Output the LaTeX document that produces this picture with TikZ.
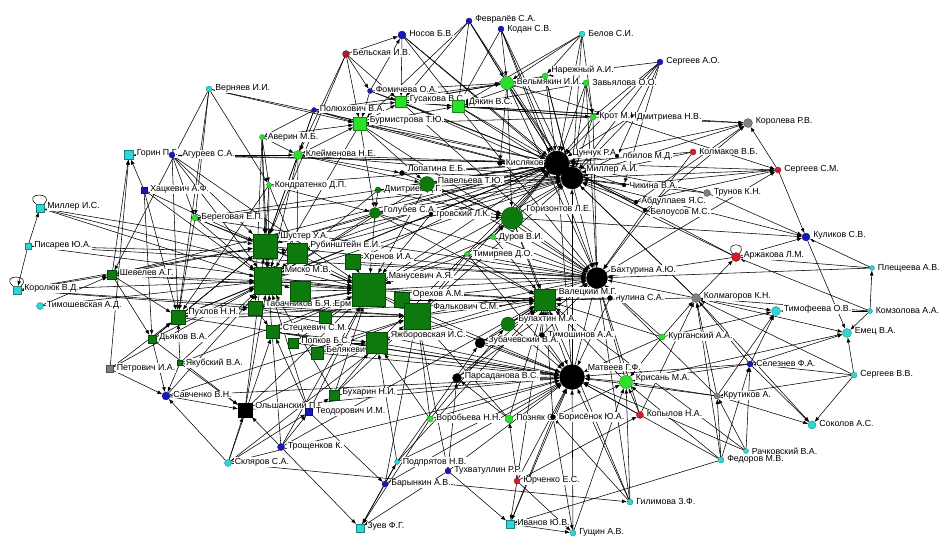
\documentclass[tikz,border=0pt]{standalone}
\usepackage{fontspec}
\setmainfont{Liberation Sans}
\usetikzlibrary{arrows.meta}
\pgfdeclarelayer{edges}\pgfdeclarelayer{labels}
\pgfsetlayers{edges,labels,main}
\definecolor{cyanN}{RGB}{45,215,215}
\definecolor{blueN}{RGB}{25,25,185}
\definecolor{greenL}{RGB}{40,225,40}
\definecolor{greenD}{RGB}{12,122,12}
\definecolor{redN}{RGB}{215,25,40}
\definecolor{redD}{RGB}{170,30,50}
\definecolor{grayN}{RGB}{128,128,128}
\tikzset{
  cn/.style={circle, fill=#1, draw=#1!60!black, line width=0.3pt, inner sep=0pt, outer sep=0pt},
  sq/.style={rectangle, fill=#1, draw=#1!60!black, line width=0.3pt, inner sep=0pt, outer sep=0pt},
  lab/.style={anchor=west, font=\fontsize{8.8}{9}\selectfont, inner sep=0.6pt, fill=white},
  lnk/.style={draw=black, line width=0.55pt, -{Latex[length=5pt,width=3.8pt]}},
  loopl/.style={draw=black, line width=0.55pt}
}
\newcommand\NN[7][]{%
  \begin{pgfonlayer}{labels}\node[lab,#1] (#2l) at ({#3+#6/2+2.5},{#4-#6/2+2.5}) {#7};\end{pgfonlayer}%
  \node[#5, minimum size=#6pt] (#2) at (#3,#4) {};}
\begin{document}
\begin{tikzpicture}[x=1pt,y=-1pt]
\begin{pgfonlayer}{edges}
\fill[white] (0,0) rectangle (945,552);
\end{pgfonlayer}
\path[use as bounding box] (0,0) rectangle (945,552);
% periphery left
\NN{verny}{209}{89}{cn=cyanN}{6}{Верняев И.И.}
\NN{gorin}{129}{155}{sq=cyanN}{9}{Горин П.Г.}
\NN[xshift=4pt]{agur}{172}{155}{cn=blueN}{6}{Агуреев С.А.}
\NN{hats}{144}{190}{sq=blueN}{6}{Хацкевич А.Ф.}
\NN{millerIS}{40}{208}{sq=cyanN}{8}{Миллер И.С.}
\NN{pisar}{28}{246}{sq=cyanN}{6}{Писарев Ю.А.}
\NN{korol}{17}{290}{sq=cyanN}{8}{Королюк В.Д.}
\NN{timosh}{40}{306}{cn=cyanN}{7}{Тимошевская А.Д.}
\NN{shev}{112}{275}{sq=greenD}{9}{Шевелев А.Г.}
\NN{bereg}{195}{218}{cn=greenL}{6}{Береговая Е.П.}
\NN{puhl}{178}{317}{sq=greenD}{14}{Пухлов Н.Н.}
\NN{dyak}{152}{339}{sq=greenD}{8}{Дьяков В.А.}
\NN{petr}{110}{369}{sq=grayN}{7}{Петрович И.А.}
\NN{yakub}{180}{363}{sq=greenD}{5}{Якубский В.А.}
\NN{savch}{166}{396}{cn=blueN}{8}{Савченко В.Н.}
\NN{olsh}{245}{410}{sq=black}{14}{Ольшанский П.Г.}
\NN{sklyar}{228}{463}{cn=cyanN}{7}{Скляров С.А.}
\NN{trosh}{281}{447}{cn=blueN}{7}{Трощенков К.}
\NN{teod}{309}{412}{sq=blueN}{7}{Теодорович И.М.}
\NN{buhar}{334}{395}{sq=greenD}{10}{Бухарин Н.И.}
\NN{zuev}{360}{528}{sq=cyanN}{8}{Зуев Ф.Г.}
\NN{baryn}{385}{484}{cn=blueN}{6}{Барынкин А.В.}
\NN{podpr}{397}{462}{cn=cyanN}{5}{Подпрятов Н.В.}
\NN{tuhv}{448}{471}{cn=blueN}{6}{Тухватуллин Р.Р.}
\NN{vorob}{430}{419}{cn=greenL}{6}{Воробьева Н.Н.}
\NN{pozn}{509}{419}{cn=greenL}{8}{Позняк О.}
\NN{boris}{553}{417}{cn=black}{5}{Борисёнок Ю.А.}
\NN{kopyl}{640}{415}{cn=redN}{7}{Копылов Н.А.}
\NN{yurch}{517}{481}{cn=redN}{6}{Юрченко Е.С.}
\NN{gilim}{630}{502}{cn=cyanN}{6}{Гилимова З.Ф.}
\NN{ivan}{510}{524}{sq=cyanN}{8}{Иванов Ю.В.}
\NN{gusch}{573}{533}{cn=cyanN}{6}{Гущин А.В.}
% right
\NN{fedor}{721}{460}{cn=cyanN}{6}{Федоров М.В.}
\NN{rachk}{746}{451}{cn=cyanN}{5}{Рачковский В.А.}
\NN{sokol}{812}{425}{cn=cyanN}{8}{Соколов А.С.}
\NN{sergVV}{854}{375}{cn=cyanN}{6}{Сергеев В.В.}
\NN{krut}{717}{396}{cn=grayN}{6}{Крутиков А.}
\NN{selez}{750}{364}{cn=blueN}{6}{Селезнев Ф.А.}
\NN{emets}{847}{333}{cn=cyanN}{9}{Емец В.А.}
\NN{komz}{870}{311}{cn=cyanN}{5}{Комзолова А.А.}
\NN{timof}{776}{311}{cn=cyanN}{9}{Тимофеева О.В.}
\NN{plesh}{872}{268}{cn=cyanN}{5}{Плещеева А.В.}
\NN{kulik}{806}{237}{cn=blueN}{8}{Куликов С.В.}
\NN{arzh}{736}{257}{cn=redN}{9}{Аржакова Л.М.}
\NN{kolmag}{696}{298}{cn=grayN}{9}{Колмагоров К.Н.}
\NN{kurg}{662}{337}{cn=greenL}{6}{Курганский А.А.}
\NN{krisan}{626}{382}{cn=greenL}{13}{Крисань М.А.}
\NN{trunov}{707}{193}{cn=grayN}{7}{Трунов К.Н.}
\NN{sergSM}{778}{170}{cn=redN}{6}{Сергеев С.М.}
\NN{korolRV}{748}{123}{cn=grayN}{9}{Королева Р.В.}
\NN{kolmak}{693}{152}{cn=redN}{6}{Колмаков В.Б.}
% top
\NN{sergAO}{660}{62}{cn=blueN}{6}{Сергеев А.О.}
\NN{belov}{582}{34}{cn=cyanN}{6}{Белов С.И.}
\NN[yshift=-1pt]{kodan}{501}{29}{cn=blueN}{6}{Кодан С.В.}
\NN[yshift=1pt]{fevr}{469}{21}{cn=blueN}{6}{Февралёв С.А.}
\NN{nosov}{402}{35}{cn=blueN}{8}{Носов Б.В.}
\NN{belsk}{346}{54}{cn=redD}{7}{Бельская И.В.}
\NN[yshift=2pt]{fomich}{370}{91}{cn=blueN}{5}{Фомичева О.А.}
\NN{gusak}{401}{102}{sq=greenL}{11}{Гусакова В.С.}
\NN[xshift=1.5pt]{dyakin}{458}{106}{sq=greenL}{12}{Дякин В.С.}
\NN[yshift=-3pt]{velm}{507}{83}{cn=greenL}{13}{Вельмякин И.И.}
\NN[yshift=5pt]{narezh}{545}{76}{cn=greenL}{6}{Нарежный А.И.}
\NN{zavyal}{586}{83}{cn=greenL}{6}{Завьялова О.О.}
\NN{krot}{593}{117}{cn=greenL}{6}{Крот М.Н.}
\NN{dmitrieva}{632}{116}{cn=black}{3}{Дмитриева Н.В.}
\NN[yshift=1pt]{polyuh}{314}{110}{cn=blueN}{5}{Полюхович В.А.}
\NN{burm}{360}{124}{sq=greenL}{13}{Бурмистрова Т.Ю.}
\NN{averin}{262}{137}{cn=greenL}{5}{Аверин М.Б.}
\NN{kleim}{298}{155}{cn=greenL}{9}{Клейменова Н.Е.}
\NN[yshift=4pt]{lopat}{402}{173}{cn=black}{5}{Лопатина Е.Б.}
\NN[yshift=-1pt]{pavel}{427}{184}{cn=greenD}{15}{Павельева Т.Ю.}
\NN{kondr}{269}{185}{cn=greenL}{5}{Кондратенко Д.П.}
\NN{dmitriev}{378}{190}{cn=greenD}{6}{Дмитриев Д.Г.}
\NN{ugrov}{431}{214}{cn=black}{4}{гровский Л.К.}
\NN{golub}{375}{213}{cn=greenD}{11}{Голубев С.А.}
\NN{gorizont}{512}{218}{cn=greenD}{22}{Горизонтов Л.Е.}
\NN{durov}{493}{237}{cn=greenL}{5}{Дуров В.И.}
\NN{timir}{467}{254}{cn=greenL}{5}{Тимиряев Д.О.}
\NN{husnul}{610}{298}{cn=black}{5}{нулина С.А.}
\NN{bahtur}{597}{278}{cn=black}{21}{Бахтурина А.Ю.}
\NN{valets}{545}{300}{sq=greenD}{21}{Валецкий М.Г.}
\NN{bulah}{508}{324}{cn=greenD}{14}{Булахтин М.А.}
\NN{timoshin}{542}{335}{cn=black}{5}{Тимошинов А.А.}
\NN{zubach}{480}{343}{cn=black}{10}{Зубачевский В.А.}
\NN{parsad}{457}{378}{cn=black}{9}{Парсаданова В.С.}
\NN{matveev}{572}{377}{cn=black}{25}{Матвеев Г.Ф.}
\NN{kislyak}{500}{163}{cn=black}{5}{Кисляков}
\NN{albilov}{617}{156}{cn=black}{4}{лбилов М.Д.}
\NN{tsunch}{557}{163}{cn=black}{24}{Цунчук Р.А.}
\NN{millerAI}{572}{178}{cn=black}{22}{Миллер А.И.}
\NN{chikina}{624}{185}{cn=black}{4}{Чикина В.А.}
\NN[yshift=1pt]{abdul}{636}{202}{cn=black}{4}{Абдуллаев Я.С.}
\NN[yshift=-2pt]{belous}{645}{210}{cn=black}{4}{Белоусов М.С.}
% centre squares
\NN{shuster}{265}{246}{sq=greenD}{24}{Шустер У.А.}
\NN{rubin}{297}{253}{sq=greenD}{20}{Рубинштейн Е.И.}
\NN{hren}{353}{262}{sq=greenD}{15}{Хренов И.А.}
\NN[yshift=9pt]{erm}{325}{317}{sq=greenD}{12}{Ерм}
\NN{manus}{369}{290}{sq=greenD}{33}{Манусевич А.Я.}
\node[sq=greenD, minimum size=20pt] (sqD) at (300,291) {};
\NN{misko}{268}{281}{sq=greenD}{27}{Миско М.В.}
\NN[yshift=1pt]{orehov}{402}{300}{sq=greenD}{15}{Орехов А.М.}
\NN[yshift=-1pt]{falk}{417}{316}{sq=greenD}{26}{Фалькович С.М.}
\NN{tabach}{255}{308}{sq=greenD}{14}{Табачников Б.Я.}
\NN{stets}{273}{332}{sq=greenD}{13}{Стецкевич С.М.}
\NN{popkov}{293}{343}{sq=greenD}{10}{Попков Б.С.}
\NN{belyak}{317}{353}{sq=greenD}{12}{Белякевич}
\NN{yazh}{377}{343}{sq=greenD}{21}{Яжборовская И.С.}
\begin{pgfonlayer}{edges}
\foreach \a/\b in {belsk/nosov, fomich/nosov, nosov/gusak, nosov/dyakin, nosov/millerAI, nosov/tsunch,
fevr/velm, fevr/tsunch, fevr/dyakin, fevr/burm, fevr/millerAI, fevr/gusak,
kodan/velm, kodan/tsunch, kodan/millerAI, kodan/dyakin, kodan/bahtur,
belov/velm, belov/tsunch, belov/millerAI, belov/krot, belov/narezh, belov/dyakin,
sergAO/tsunch, sergAO/millerAI, sergAO/krot, sergAO/narezh, sergAO/albilov, sergAO/chikina,
belsk/burm, belsk/gusak, belsk/kleim, belsk/shuster, belsk/fomich,
fomich/gusak, fomich/burm, fomich/velm, fomich/tsunch,
gusak/dyakin, gusak/tsunch, gusak/millerAI, gusak/velm, gusak/bahtur,
dyakin/tsunch, dyakin/millerAI, dyakin/krot, dyakin/bahtur, dyakin/korolRV,
velm/tsunch, velm/millerAI, velm/bahtur, velm/gorizont, velm/kislyak, velm/sergSM,
narezh/tsunch, narezh/millerAI, narezh/bahtur, narezh/gusak, narezh/dyakin,
zavyal/tsunch, zavyal/millerAI, zavyal/krot, zavyal/velm, zavyal/dyakin, zavyal/bahtur,
krot/tsunch, krot/millerAI, krot/bahtur, krot/gusak, krot/burm, krot/korolRV,
dmitrieva/millerAI, dmitrieva/tsunch, dmitrieva/dyakin,
polyuh/burm, polyuh/gusak, polyuh/velm, polyuh/averin, polyuh/millerAI, polyuh/kleim, polyuh/shuster,
verny/bereg, verny/puhl, verny/burm, verny/tsunch, verny/kondr, verny/shev,
burm/tsunch, burm/millerAI, burm/dyakin, burm/gusak, burm/pavel, burm/golub, burm/bahtur, burm/misko,
averin/kleim, averin/shuster, averin/kondr, averin/misko, averin/burm, averin/tabach,
kleim/burm, kleim/shuster, kleim/rubin, kleim/tsunch, kleim/millerAI, kleim/lopat, kleim/pavel, kleim/misko,
lopat/tsunch, lopat/millerAI, lopat/gorizont,
pavel/tsunch, pavel/millerAI, pavel/gorizont, pavel/bahtur, pavel/misko, pavel/manus,
kondr/shuster, kondr/misko, kondr/rubin, kondr/golub, kondr/tsunch, kondr/puhl,
dmitriev/tsunch, dmitriev/golub, dmitriev/gorizont, dmitriev/misko, dmitriev/millerAI,
golub/gorizont, golub/tsunch, golub/millerAI, golub/bahtur, golub/manus, golub/misko, golub/shuster, golub/valets,
ugrov/gorizont, ugrov/tsunch, ugrov/manus,
gorizont/tsunch, gorizont/millerAI, gorizont/bahtur, gorizont/valets, gorizont/matveev, gorizont/kulik,
durov/gorizont, durov/bahtur, durov/tsunch, durov/valets, durov/manus,
timir/gorizont, timir/bahtur, timir/manus, timir/valets, timir/matveev, timir/falk,
hats/gorin, shev/gorin, petr/gorin, agur/gorin, gorin/kleim, gorin/tsunch,
agur/puhl, agur/bereg, agur/shuster, agur/misko, agur/tsunch, agur/manus,
hats/puhl, hats/shuster, hats/dyak, hats/misko,
pisar/millerIS, millerIS/shuster, millerIS/misko, millerIS/manus,
pisar/korol, pisar/manus, pisar/rubin, pisar/bahtur,
korol/shev, korol/misko, korol/shuster, korol/falk, korol/tabach,
timosh/misko, timosh/shev,
shev/puhl, shev/dyak, shev/misko, shev/shuster, shev/tsunch, shev/manus,
bereg/puhl, bereg/shuster, bereg/misko, bereg/tsunch, bereg/millerAI, bereg/manus, bereg/bahtur,
puhl/shuster, puhl/misko, puhl/manus, puhl/tsunch, puhl/matveev, puhl/tabach, puhl/falk, puhl/valets,
dyak/puhl, dyak/savch, dyak/olsh, dyak/shuster, dyak/misko,
petr/savch, petr/puhl, petr/misko,
yakub/savch, yakub/puhl, yakub/olsh, yakub/misko, yakub/manus,
sklyar/savch, savch/olsh, savch/matveev, savch/falk, savch/misko,
olsh/shuster, olsh/misko, olsh/manus, olsh/matveev, sklyar/olsh, olsh/yazh,
sklyar/falk, sklyar/teod, sklyar/stets, sklyar/gilim, sklyar/matveev,
trosh/olsh, trosh/zuev, trosh/teod, trosh/manus, trosh/misko, trosh/valets,
teod/buhar, teod/misko, teod/baryn, teod/manus, teod/stets,
buhar/manus, buhar/falk, buhar/matveev, buhar/misko, buhar/yazh,
podpr/zuev, baryn/zuev, tuhv/zuev, vorob/zuev,
baryn/matveev, baryn/podpr, baryn/falk,
podpr/matveev, podpr/valets, podpr/zubach, podpr/yazh,
tuhv/matveev, tuhv/parsad, tuhv/falk, tuhv/ivan,
vorob/matveev, vorob/yazh, vorob/bulah, vorob/falk,
pozn/matveev, pozn/parsad, pozn/falk, pozn/valets,
boris/matveev, boris/krisan, boris/gusch, boris/ivan, boris/valets,
kopyl/krisan, kopyl/matveev, kopyl/kolmag, kopyl/bahtur,
yurch/ivan, yurch/matveev, yurch/pozn, yurch/gusch, yurch/valets, yurch/kopyl,
gilim/matveev, gilim/krisan, gilim/boris, gilim/valets, gilim/bahtur,
ivan/gusch, ivan/matveev, gusch/matveev, gusch/krisan,
fedor/krut, fedor/selez, fedor/krisan, fedor/kolmag, fedor/matveev, fedor/ivan,
rachk/krut, rachk/selez, rachk/matveev, rachk/valets,
krut/sokol, selez/sokol, sergVV/sokol, kolmag/sokol,
sergVV/selez, sergVV/emets, sergVV/krut, sergVV/kolmag,
krut/matveev, krut/krisan, krut/kolmag, krut/bahtur,
selez/timof, selez/emets, selez/krisan, selez/kolmag, selez/matveev,
kolmag/emets, komz/emets, kulik/emets, krisan/emets,
komz/plesh, komz/timof, komz/arzh, komz/kolmag,
kolmag/timof, krut/timof, kurg/timof,
plesh/kulik, plesh/arzh, plesh/bahtur,
arzh/kulik, sergSM/kulik, trunov/kulik, millerAI/kulik,
kolmag/arzh, arzh/bahtur, arzh/millerAI, arzh/tsunch,
kolmag/bahtur, kolmag/millerAI, kolmag/tsunch, kolmag/valets,
kurg/bahtur, kurg/matveev, kurg/kolmag, kurg/valets, kurg/krisan,
krisan/matveev, krisan/bahtur, krisan/valets,
trunov/millerAI, trunov/tsunch,
millerAI/sergSM, tsunch/sergSM, bahtur/sergSM, chikina/sergSM, abdul/sergSM,
millerAI/korolRV, tsunch/korolRV, sergSM/korolRV, abdul/korolRV, belous/korolRV,
kolmak/millerAI, kolmak/tsunch, kolmak/bahtur,
chikina/tsunch, chikina/millerAI, abdul/tsunch, abdul/millerAI, belous/bahtur, belous/tsunch, albilov/tsunch, albilov/millerAI,
husnul/bahtur, husnul/valets, husnul/matveev,
bulah/valets, bulah/matveev, bulah/bahtur,
timoshin/valets, timoshin/matveev, timoshin/bahtur,
zubach/matveev, zubach/valets, zubach/bahtur,
parsad/matveev, parsad/valets, parsad/bahtur,
matveev/bahtur, matveev/tsunch, matveev/millerAI,
kislyak/tsunch, kislyak/millerAI,
shuster/misko, rubin/misko, misko/manus, manus/falk, falk/matveev, yazh/matveev, yazh/valets, orehov/valets, tabach/manus, stets/manus, popkov/yazh, belyak/yazh, hren/tsunch, manus/tsunch, manus/millerAI, manus/bahtur, falk/bahtur, falk/tsunch, misko/tsunch, shuster/tsunch, rubin/tsunch, rubin/millerAI, sqD/manus, erm/manus, erm/falk, stets/yazh, popkov/manus, tabach/falk, orehov/bahtur, hren/bahtur, shuster/bahtur, misko/bahtur, misko/valets, yazh/bahtur, stets/matveev, popkov/matveev, belyak/matveev, tabach/matveev, shuster/rubin, misko/sqD, hren/manus, orehov/falk, falk/valets, manus/valets, manus/matveev, rubin/manus, shuster/manus, tabach/stets, belyak/falk, shuster/millerAI, misko/millerAI, falk/millerAI, yazh/tsunch}
  \draw[lnk] (\a) -- (\b);
\draw[loopl] (millerIS.north west) .. controls +(-14,-12) and +(12,-12) .. (millerIS.north east);
\draw[loopl] (korol.north west) .. controls +(-14,-12) and +(12,-12) .. (korol.north east);
\draw[loopl] (arzh.north west) .. controls +(-10,-12) and +(10,-12) .. (arzh.north east);
\end{pgfonlayer}
\end{tikzpicture}
\end{document}
